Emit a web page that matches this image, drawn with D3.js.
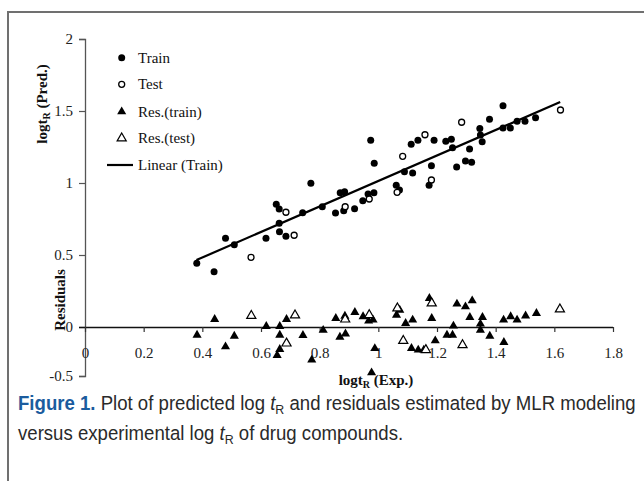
<!DOCTYPE html>
<html><head><meta charset="utf-8">
<script src="https://cdn.jsdelivr.net/npm/d3@7/dist/d3.min.js"></script>
<style>body{margin:0;background:#fff}svg{display:block}</style>
</head><body>
<svg id="c" width="644" height="481"></svg>
<script>
// ---- data ----
const trainX = [0.381,0.440,0.479,0.509,0.617,0.652,0.662,0.662,0.663,0.685,0.770,0.742,0.809,0.854,0.870,0.885,0.882,0.919,0.947,0.965,0.985,0.974,0.986,1.061,1.072,1.089,1.117,1.112,1.135,1.190,1.181,1.173,1.230,1.249,1.253,1.267,1.297,1.318,1.311,1.346,1.348,1.354,1.379,1.425,1.425,1.450,1.473,1.500,1.536];
const trainY = [0.442,0.384,0.616,0.572,0.616,0.852,0.819,0.720,0.662,0.630,0.998,0.794,0.835,0.792,0.933,0.940,0.808,0.822,0.877,0.924,0.933,1.297,1.137,0.984,0.951,1.078,1.069,1.269,1.297,1.297,1.120,0.984,1.290,1.303,1.245,1.111,1.153,1.144,1.236,1.378,1.333,1.287,1.442,1.537,1.382,1.382,1.428,1.428,1.453];
const testX = [0.566,0.685,0.713,0.887,0.969,1.064,1.083,1.159,1.181,1.284,1.621];
const testY = [0.484,0.797,0.637,0.835,0.889,0.935,1.185,1.335,1.021,1.422,1.507];
const resTrainX = [0.382,0.442,0.479,0.509,0.618,0.664,0.664,0.687,0.664,0.655,0.743,0.773,0.812,0.855,0.886,0.920,0.948,0.967,0.982,0.869,0.888,0.977,0.988,1.062,1.073,1.093,1.117,1.113,1.136,1.155,1.174,1.182,1.194,1.234,1.253,1.256,1.268,1.297,1.320,1.312,1.348,1.348,1.355,1.380,1.427,1.428,1.451,1.473,1.502,1.539];
const resTrainY = [-0.082,0.053,-0.201,-0.092,0.005,0.005,-0.082,0.053,-0.227,-0.289,-0.085,-0.336,-0.033,0.060,0.076,0.102,0.072,0.042,0.049,-0.102,-0.069,-0.466,-0.219,0.083,0.118,0.026,0.049,-0.218,-0.234,-0.234,0.199,0.060,-0.140,-0.082,-0.082,0.007,0.160,0.141,0.183,0.067,0.021,-0.031,0.067,-0.092,0.049,-0.156,0.072,0.049,0.078,0.095];
const resTestX = [0.567,0.716,0.687,0.887,0.969,1.065,1.085,1.162,1.182,1.287,1.619];
const resTestY = [0.078,0.081,-0.167,0.053,0.083,0.130,-0.140,-0.234,0.165,-0.184,0.123];
const trendX = [0.38, 1.62];
const trendY = [0.465, 1.5625];
const xTicks = [0,0.2,0.4,0.6,0.8,1,1.2,1.4,1.6,1.8];
const yTicks = [-0.5,0,0.5,1,1.5,2];
const legendLabels = ["Train","Test","Res.(train)","Res.(test)","Linear (Train)"];

// ---- drawing ----
const svg = d3.select("#c");
const serif = "'Liberation Serif','Times New Roman',serif";
const sans = "'Liberation Sans','Arial',sans-serif";

svg.append("rect").attr("x",8).attr("y",12).attr("width",660).attr("height",490)
  .attr("fill","none").attr("stroke","#707070").attr("stroke-width",2);

const x = d3.scaleLinear().domain([0,1.8]).range([85,613]);
const y = d3.scaleLinear().domain([-0.5,0,2]).range([376,327,39]);

// y axis
const ya = svg.append("g").attr("transform","translate(85,0)")
  .call(d3.axisLeft(y).tickValues(yTicks).tickSize(6).tickPadding(6).tickFormat(d=>String(d)));
ya.select(".domain").attr("stroke","#555").attr("stroke-width",1.3);
ya.selectAll(".tick line").attr("stroke","#555").attr("stroke-width",1.2);
ya.selectAll("text").attr("font-family",serif).attr("font-size",15).attr("fill","#222");

// x axis at y=0
const xa = svg.append("g").attr("transform",`translate(0,${y(0)})`)
  .call(d3.axisBottom(x).tickValues(xTicks).tickSizeInner(5).tickSizeOuter(0).tickPadding(15).tickFormat(d=>String(d)));
xa.select(".domain").attr("stroke","#111").attr("stroke-width",1.3).attr("d",`M${x(0)-6},0.5H${x(1.8)}`);
xa.selectAll(".tick line").attr("stroke","#333").attr("stroke-width",1.2);
xa.selectAll("text").attr("font-family",serif).attr("font-size",15).attr("fill","#222");

// axis titles
function subLabel(g, main, sub, rest){
  const t = g.append("text").attr("font-family",serif).attr("font-weight","bold").attr("font-size",15).attr("fill","#111").attr("text-anchor","middle");
  t.append("tspan").text(main);
  t.append("tspan").attr("font-size",10).attr("dy",3).text(sub);
  t.append("tspan").attr("dy",-3).text(rest);
  return t;
}
subLabel(svg.append("g").attr("transform","translate(376,385)"),"logt","R"," (Exp.)");
subLabel(svg.append("g").attr("transform","translate(47,104) rotate(-90)"),"logt","R"," (Pred.)");
svg.append("text").attr("transform","translate(65,300) rotate(-90)").attr("text-anchor","middle")
  .attr("font-family",serif).attr("font-weight","bold").attr("font-size",15).attr("fill","#111").text("Residuals");

// trend line
svg.append("line").attr("x1",x(trendX[0])).attr("y1",y(trendY[0])).attr("x2",x(trendX[1])).attr("y2",y(trendY[1]))
  .attr("stroke","#000").attr("stroke-width",2.2);

const tri = d3.symbol().type(d3.symbolTriangle).size(36);
// residual markers
svg.append("g").selectAll("path").data(resTrainX).join("path")
  .attr("d",tri).attr("transform",(d,i)=>`translate(${x(d)},${y(resTrainY[i])})`).attr("fill","#000");
svg.append("g").selectAll("path").data(resTestX).join("path")
  .attr("d",tri).attr("transform",(d,i)=>`translate(${x(d)},${y(resTestY[i])})`).attr("fill","#fff").attr("stroke","#000").attr("stroke-width",1.2);
// pred markers
svg.append("g").selectAll("circle").data(trainX).join("circle")
  .attr("cx",d=>x(d)).attr("cy",(d,i)=>y(trainY[i])).attr("r",3.5).attr("fill","#000");
svg.append("g").selectAll("circle").data(testX).join("circle")
  .attr("cx",d=>x(d)).attr("cy",(d,i)=>y(testY[i])).attr("r",3).attr("fill","#fff").attr("stroke","#000").attr("stroke-width",1.3);

// legend
const lg = svg.append("g");
const rows = [57.7,84.3,111.7,138.3,165];
legendLabels.forEach((lab,i)=>{
  const ry = rows[i];
  if(i===0) lg.append("circle").attr("cx",121.7).attr("cy",ry).attr("r",3.5).attr("fill","#000");
  if(i===1) lg.append("circle").attr("cx",121.7).attr("cy",ry).attr("r",3).attr("fill","#fff").attr("stroke","#000").attr("stroke-width",1.3);
  if(i===2) lg.append("path").attr("d",tri).attr("transform",`translate(121.7,${ry})`).attr("fill","#000");
  if(i===3) lg.append("path").attr("d",tri).attr("transform",`translate(121.7,${ry})`).attr("fill","#fff").attr("stroke","#000").attr("stroke-width",1.2);
  if(i===4) lg.append("line").attr("x1",107).attr("x2",133).attr("y1",ry).attr("y2",ry).attr("stroke","#000").attr("stroke-width",2.2);
  lg.append("text").attr("x",138).attr("y",ry+5).attr("font-family",serif).attr("font-size",15).attr("fill","#111").text(lab);
});

// caption (condensed by horizontal scaling to the reference width)
const cap = svg.append("g").attr("font-family",sans).attr("fill","#2a2a2a");
const fs = 19.5;
const l1 = cap.append("text").attr("y",410).attr("font-size",fs);
l1.append("tspan").attr("font-weight","bold").attr("fill","#1b5c9e").text("Figure 1.");
l1.append("tspan").text(" Plot of predicted log ");
l1.append("tspan").attr("font-style","italic").text("t");
l1.append("tspan").attr("font-size",13).attr("dy",4).text("R");
l1.append("tspan").attr("dy",-4).text(" and residuals estimated by MLR modeling");
const l2 = cap.append("text").attr("y",440).attr("font-size",fs);
l2.append("tspan").text("versus experimental log ");
l2.append("tspan").attr("font-style","italic").text("t");
l2.append("tspan").attr("font-size",13).attr("dy",4).text("R");
l2.append("tspan").attr("dy",-4).text(" of drug compounds.");
const w = l1.node().getComputedTextLength();
const k = 618 / w;
cap.attr("transform",`translate(18,0) scale(${k},1)`);
</script>
</body></html>
